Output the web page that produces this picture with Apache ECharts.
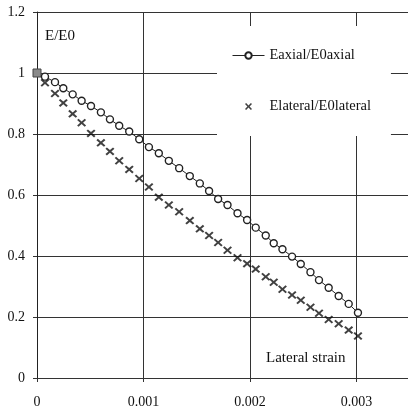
<!DOCTYPE html>
<html>
<head>
<meta charset="utf-8">
<script src="https://cdn.jsdelivr.net/npm/echarts@6/dist/echarts.min.js"></script>
<style>html,body{margin:0;padding:0;background:#fff;}#c{width:408px;height:412px;}</style>
</head>
<body>
<div id="c"></div>
<script>
const strain = [0, 0.000075, 0.000169, 0.000247, 0.000335, 0.000419, 0.000507, 0.000600, 0.000685, 0.000772, 0.000866, 0.000960, 0.001051, 0.001144, 0.001238, 0.001335, 0.001435, 0.001529, 0.001616, 0.001701, 0.001789, 0.001883, 0.001973, 0.002054, 0.002148, 0.002223, 0.002305, 0.002395, 0.002477, 0.002568, 0.002648, 0.002739, 0.002833, 0.002927, 0.003014];
const axial = [1, 0.988, 0.970, 0.950, 0.930, 0.909, 0.892, 0.871, 0.848, 0.827, 0.808, 0.783, 0.757, 0.737, 0.712, 0.688, 0.662, 0.638, 0.613, 0.587, 0.567, 0.540, 0.518, 0.493, 0.467, 0.442, 0.422, 0.398, 0.374, 0.347, 0.321, 0.296, 0.269, 0.243, 0.214];
const lateral = [null, 0.968, 0.933, 0.902, 0.866, 0.837, 0.802, 0.771, 0.743, 0.712, 0.684, 0.654, 0.626, 0.593, 0.567, 0.545, 0.516, 0.489, 0.467, 0.444, 0.419, 0.394, 0.375, 0.357, 0.332, 0.314, 0.291, 0.272, 0.255, 0.232, 0.212, 0.192, 0.178, 0.157, 0.138];
const xTickValues = [0, 0.001, 0.002, 0.003];
const xTickLabels = ['0', '0.001', '0.002', '0.003'];
const seriesNames = ['Eaxial/E0axial', 'Elateral/E0lateral'];
const yTitle = 'E/E0';
const xTitle = 'Lateral strain';

const FONT = '"Liberation Serif", "Times New Roman", serif';
const XPATH = 'path://M0,1.6L1.6,0L5,3.4L8.4,0L10,1.6L6.6,5L10,8.4L8.4,10L5,6.6L1.6,10L0,8.4L3.4,5Z';
const XLEGEND = 'path://M0,0M32,8M12.5,1.6L13.6,0.5L16,2.9L18.4,0.5L19.5,1.6L17.1,4L19.5,6.4L18.4,7.5L16,5.1L13.6,7.5L12.5,6.4L14.9,4Z';

const axialData = strain.map((x, i) => i === 0
  ? {value: [x, axial[i]], symbol: 'rect', symbolSize: 8, itemStyle: {color: '#8a8a8a', borderColor: '#444', borderWidth: 1}}
  : [x, axial[i]]);
const lateralData = strain.map((x, i) => [x, lateral[i]]).filter(d => d[1] !== null);

const chart = echarts.init(document.getElementById('c'), null, {renderer: 'canvas'});
chart.setOption({
  animation: false,
  backgroundColor: '#fff',
  grid: {left: 37, top: 12, height: 366, width: 394, containLabel: false, outerBoundsMode: 'none'},
  xAxis: {
    type: 'value', min: 0, max: 0.0037, interval: 0.001,
    axisLine: {show: true, onZero: false, lineStyle: {color: '#333', width: 1}},
    axisTick: {show: true, length: 4, lineStyle: {color: '#333'}},
    splitLine: {show: true, lineStyle: {color: '#333', width: 1}},
    axisLabel: {
      margin: 17, color: '#111', fontFamily: FONT, fontSize: 14,
      formatter: v => {
        const k = xTickValues.findIndex(t => Math.abs(t - v) < 1e-9);
        return k >= 0 ? xTickLabels[k] : '';
      }
    }
  },
  yAxis: {
    type: 'value', min: 0, max: 1.2, interval: 0.2,
    axisLine: {show: true, lineStyle: {color: '#222', width: 1}},
    axisTick: {show: true, length: 4, lineStyle: {color: '#333'}},
    splitLine: {show: true, lineStyle: {color: '#333', width: 1}},
    axisLabel: {margin: 12, color: '#111', fontFamily: FONT, fontSize: 14}
  },
  legend: {
    orient: 'vertical', left: 217, top: 26,
    padding: [22, 20, 22, 15], itemGap: 36,
    itemWidth: 32, itemHeight: 8,
    backgroundColor: '#fff',
    lineStyle: {width: 1},
    textStyle: {fontFamily: FONT, fontSize: 14.5, color: '#111'},
    data: [{name: seriesNames[0]}, {name: seriesNames[1], icon: XLEGEND}]
  },
  graphic: [
    {type: 'text', left: 45, top: 29, style: {text: yTitle, font: '15px ' + FONT, fill: '#111'}},
    {type: 'text', left: 266, top: 351, style: {text: xTitle, font: '15px ' + FONT, fill: '#111'}}
  ],
  series: [
    {
      name: seriesNames[0], type: 'line', data: axialData,
      symbol: 'circle', symbolSize: 7, showAllSymbol: true,
      lineStyle: {color: '#222', width: 1},
      itemStyle: {color: '#fff', borderColor: '#222', borderWidth: 1.4},
      z: 3
    },
    {
      name: seriesNames[1], type: 'scatter', data: lateralData,
      symbol: XPATH, symbolSize: [9, 8],
      itemStyle: {color: '#111'},
      z: 3
    }
  ]
});
</script>
</body>
</html>
